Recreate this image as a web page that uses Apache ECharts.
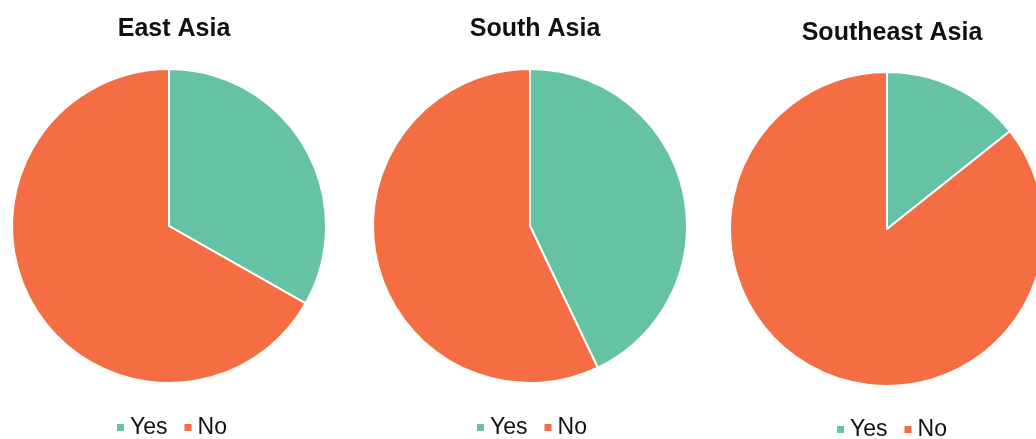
<!DOCTYPE html>
<html>
<head>
<meta charset="utf-8">
<script src="https://cdn.jsdelivr.net/npm/echarts@6/dist/echarts.min.js"></script>
<style>
  html, body { margin: 0; padding: 0; background: #fff; }
  #chart { width: 1036px; height: 439px; }
</style>
</head>
<body>
<div id="chart"></div>
<script>
// Share of respondents answering Yes / No, by region (percent)
const regions = ['East Asia', 'South Asia', 'Southeast Asia'];
const answers = ['Yes', 'No'];
const yesShare = [33.2, 42.9, 14.3];
const noShare = [66.8, 57.1, 85.7];
const colors = ['#66c2a5', '#f46d43'];

// Per-panel layout (pixels)
const centersX = [169, 530, 887];
const centersY = [226, 226, 229];
const titleTop = [12, 12, 16];
const legendLeft = [115, 475, 835];
const legendTop = [416, 416, 418];
const radius = 157;

const chart = echarts.init(document.getElementById('chart'), null, { renderer: 'canvas' });

const option = {
  animation: false,
  color: colors,
  title: regions.map((name, i) => ({
    text: name,
    left: centersX[i],
    top: titleTop[i],
    textAlign: 'center',
    textStyle: {
      fontFamily: 'Liberation Sans, Arial, sans-serif',
      fontSize: 25,
      fontWeight: 'bold',
      color: '#111'
    }
  })),
  legend: regions.map((_, i) => ({
    data: answers,
    left: legendLeft[i],
    top: legendTop[i],
    padding: 0,
    icon: 'rect',
    itemWidth: 9,
    itemHeight: 9,
    itemGap: 15,
    selectedMode: false,
    textStyle: {
      fontFamily: 'Liberation Sans, Arial, sans-serif',
      fontSize: 23,
      color: '#111'
    }
  })),
  series: regions.map((name, i) => ({
    type: 'pie',
    name: name,
    center: [centersX[i], centersY[i]],
    radius: radius,
    startAngle: 90,
    clockwise: true,
    label: { show: false },
    labelLine: { show: false },
    emphasis: { disabled: true },
    itemStyle: { borderColor: '#fff', borderWidth: 2 },
    data: answers.map((a, k) => ({
      name: a,
      value: k === 0 ? yesShare[i] : noShare[i]
    }))
  }))
};

chart.setOption(option);
</script>
</body>
</html>
